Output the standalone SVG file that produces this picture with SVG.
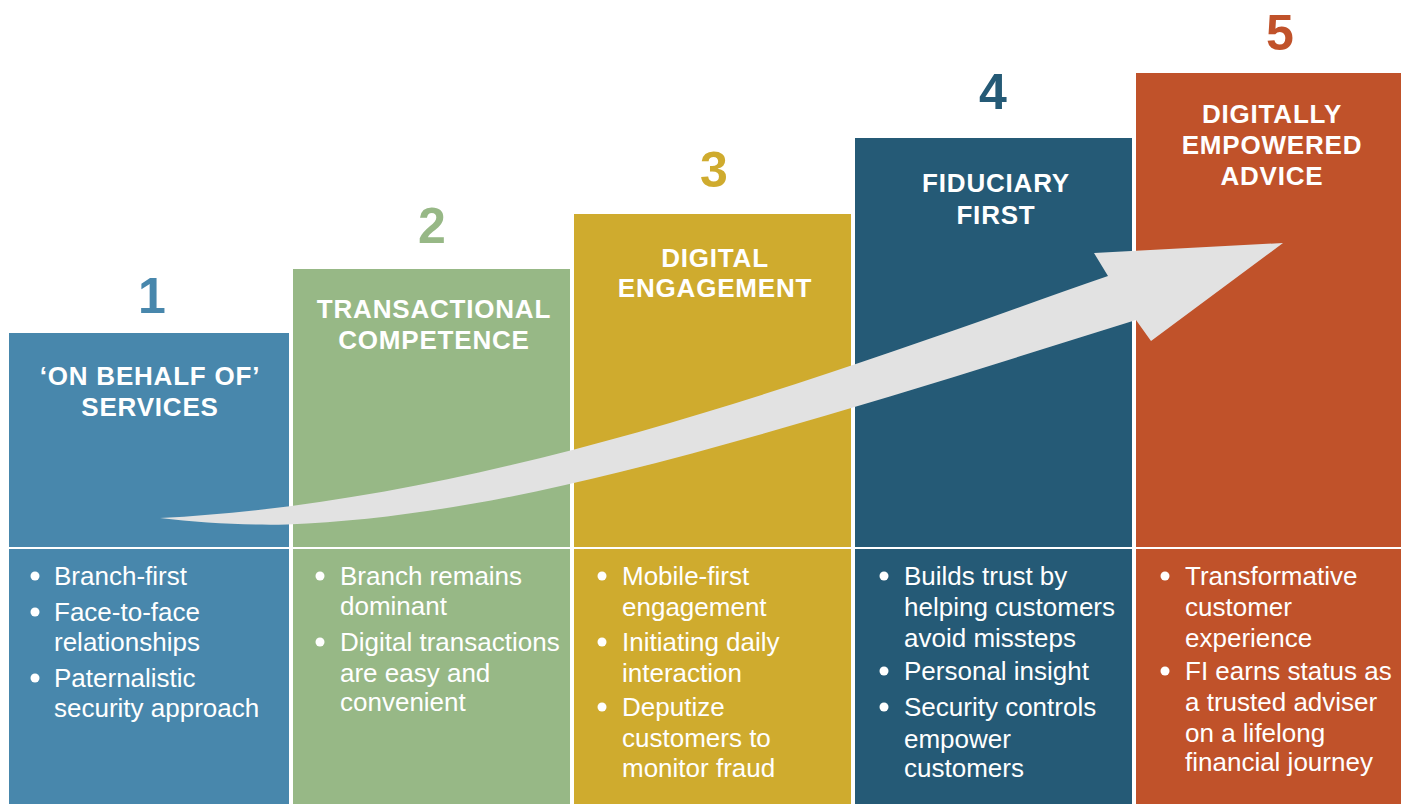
<svg xmlns="http://www.w3.org/2000/svg" width="1401" height="804" viewBox="0 0 1401 804">
  <style>
    .num { font-family: "Liberation Sans", Arial, sans-serif; font-weight: bold; font-size: 50px; text-anchor: middle; }
    .title { font-family: "Liberation Sans", Arial, sans-serif; font-weight: bold; font-size: 26px; letter-spacing: 0.8px; fill: #ffffff; text-anchor: middle; }
    .item { font-family: "Liberation Sans", Arial, sans-serif; font-size: 26px; fill: #ffffff; }
    .dot { fill: #ffffff; }
    .c1 { fill: #4887ac; }
    .c2 { fill: #97b886; }
    .c3 { fill: #cfab2e; }
    .c4 { fill: #255a76; }
    .c5 { fill: #c0522a; }
    .arrow { fill: #e2e2e2; }
  </style>
  <rect width="1401" height="804" fill="#ffffff"/>

  <!-- Stage 1 -->
  <g id="stage-1">
    <text class="num c1" x="152" y="313">1</text>
    <rect class="c1" x="9" y="333" width="280" height="214"/>
    <rect class="c1" x="9" y="549" width="280" height="255"/>
    <text class="title" x="150" y="385">‘ON BEHALF OF’</text>
    <text class="title" x="150" y="416">SERVICES</text>
    <circle class="dot" cx="35" cy="576" r="4.5"/>
    <text class="item" x="54" y="585">Branch-first</text>
    <circle class="dot" cx="35" cy="612" r="4.5"/>
    <text class="item" x="54" y="621">Face-to-face</text>
    <text class="item" x="54" y="651">relationships</text>
    <circle class="dot" cx="35" cy="678" r="4.5"/>
    <text class="item" x="54" y="687">Paternalistic</text>
    <text class="item" x="54" y="717">security approach</text>
  </g>

  <!-- Stage 2 -->
  <g id="stage-2">
    <text class="num c2" x="432" y="243">2</text>
    <rect class="c2" x="293" y="269" width="277" height="278"/>
    <rect class="c2" x="293" y="549" width="277" height="255"/>
    <text class="title" x="434" y="318">TRANSACTIONAL</text>
    <text class="title" x="434" y="349">COMPETENCE</text>
    <circle class="dot" cx="320" cy="576" r="4.5"/>
    <text class="item" x="340" y="585">Branch remains</text>
    <text class="item" x="340" y="615">dominant</text>
    <circle class="dot" cx="320" cy="642" r="4.5"/>
    <text class="item" x="340" y="651">Digital transactions</text>
    <text class="item" x="340" y="682">are easy and</text>
    <text class="item" x="340" y="711">convenient</text>
  </g>

  <!-- Stage 3 -->
  <g id="stage-3">
    <text class="num c3" x="714" y="187">3</text>
    <rect class="c3" x="574" y="214" width="277" height="333"/>
    <rect class="c3" x="574" y="549" width="277" height="255"/>
    <text class="title" x="715" y="267">DIGITAL</text>
    <text class="title" x="715" y="297">ENGAGEMENT</text>
    <circle class="dot" cx="602" cy="576" r="4.5"/>
    <text class="item" x="622" y="585">Mobile-first</text>
    <text class="item" x="622" y="616">engagement</text>
    <circle class="dot" cx="602" cy="642" r="4.5"/>
    <text class="item" x="622" y="651">Initiating daily</text>
    <text class="item" x="622" y="682">interaction</text>
    <circle class="dot" cx="602" cy="707" r="4.5"/>
    <text class="item" x="622" y="716">Deputize</text>
    <text class="item" x="622" y="747">customers to</text>
    <text class="item" x="622" y="777">monitor fraud</text>
  </g>

  <!-- Stage 4 -->
  <g id="stage-4">
    <text class="num c4" x="993" y="109">4</text>
    <rect class="c4" x="855" y="138" width="277" height="409"/>
    <rect class="c4" x="855" y="549" width="277" height="255"/>
    <text class="title" x="996" y="192">FIDUCIARY</text>
    <text class="title" x="996" y="224">FIRST</text>
    <circle class="dot" cx="884" cy="576" r="4.5"/>
    <text class="item" x="904" y="585">Builds trust by</text>
    <text class="item" x="904" y="616">helping customers</text>
    <text class="item" x="904" y="647">avoid missteps</text>
    <circle class="dot" cx="884" cy="671" r="4.5"/>
    <text class="item" x="904" y="680">Personal insight</text>
    <circle class="dot" cx="884" cy="707" r="4.5"/>
    <text class="item" x="904" y="716">Security controls</text>
    <text class="item" x="904" y="748">empower</text>
    <text class="item" x="904" y="777">customers</text>
  </g>

  <!-- Stage 5 -->
  <g id="stage-5">
    <text class="num c5" x="1280" y="50">5</text>
    <rect class="c5" x="1136" y="73" width="265" height="474"/>
    <rect class="c5" x="1136" y="549" width="265" height="255"/>
    <text class="title" x="1272" y="123">DIGITALLY</text>
    <text class="title" x="1272" y="154">EMPOWERED</text>
    <text class="title" x="1272" y="185">ADVICE</text>
    <circle class="dot" cx="1165" cy="576" r="4.5"/>
    <text class="item" x="1185" y="585">Transformative</text>
    <text class="item" x="1185" y="616">customer</text>
    <text class="item" x="1185" y="647">experience</text>
    <circle class="dot" cx="1165" cy="671" r="4.5"/>
    <text class="item" x="1185" y="680">FI earns status as</text>
    <text class="item" x="1185" y="711">a trusted adviser</text>
    <text class="item" x="1185" y="742">on a lifelong</text>
    <text class="item" x="1185" y="771">financial journey</text>
  </g>

  <!-- Rising progress arrow across the stages -->
  <g id="connectors">
    <path class="arrow" d="M160,518 C500,501 850,366 1108,276 L1094,253 L1283,243 L1151,341 L1136,320 C963,374 792,429 620,472 C509,499.75 398,520 287,524.5 C250,525.5 200,523 160,518 Z"/>
  </g>
</svg>
